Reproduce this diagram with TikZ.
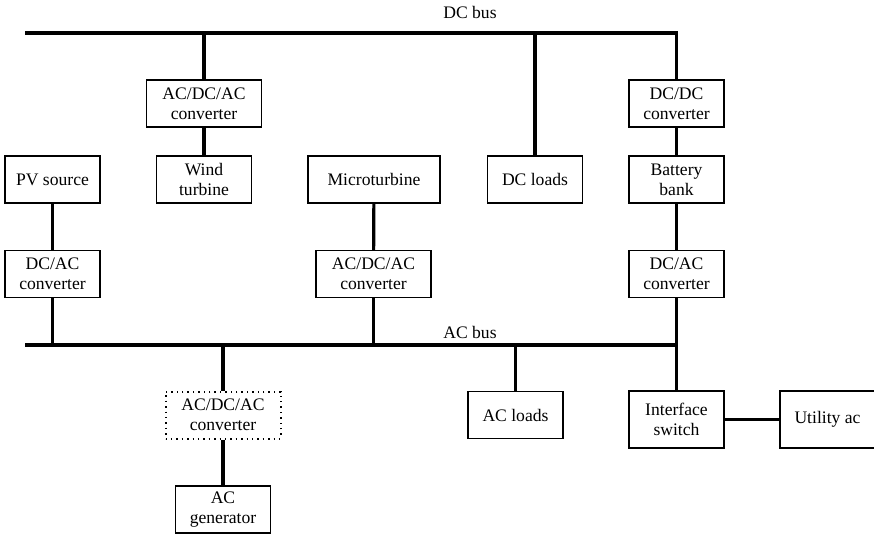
\documentclass[tikz,border=0pt]{standalone}
\usepackage{fontspec}
\setmainfont{Liberation Serif}
\begin{document}
\begin{tikzpicture}[x=0.5pt,y=-0.5pt,
    box/.style={draw, line width=0.7pt, minimum width=47.5pt, minimum height=23.5pt,
      align=center, inner sep=1pt, font=\fontsize{8.8}{10}\selectfont},
    wide/.style={box, minimum width=57.5pt},
    tall/.style={box, minimum height=28.5pt},
    link/.style={line width=1.6pt},
    buslabel/.style={font=\fontsize{8.8}{10}\selectfont}]
  \useasboundingbox (0,0) rectangle (874,536);
  % DC side
  \node[wide] (acdcw) at (204,103.5) {AC/DC/AC\\converter};
  \node[box] (wind) at (204,179.5) {Wind\\turbine};
  \node[box] (pv) at (52.5,179.5) {PV source};
  \node[box, minimum width=66pt] (micro) at (374,179.5) {Microturbine};
  \node[box] (dcload) at (535,179.5) {DC loads};
  \node[box] (dcdc) at (676.5,103.5) {DC/DC\\converter};
  \node[box] (batt) at (676.5,179.5) {Battery\\bank};
  % converters onto the AC bus
  \node[box] (dcacpv) at (52.5,274) {DC/AC\\converter};
  \node[wide] (acdcmt) at (373.5,274) {AC/DC/AC\\converter};
  \node[box] (dcacbat) at (676.5,274) {DC/AC\\converter};
  % AC side
  \node[wide, dotted, line width=1pt] (acdcgen) at (223,415) {AC/DC/AC\\converter};
  \node[box] (acgen) at (223,509.5) {AC\\generator};
  \node[box] (acload) at (515.5,415) {AC loads};
  \node[tall] (iswitch) at (676.5,419.5) {Interface\\switch};
  \node[tall] (utility) at (827.5,419.5) {Utility ac};
  % buses
  \coordinate (dcbus) at (25,33);
  \coordinate (acbus) at (25,345);
  \draw[link] (dcbus) -- (dcbus -| dcdc) -- (dcdc);
  \draw[link] (acbus) -- (acbus -| iswitch);
  \node[buslabel] (dclabel) at (470,12) {DC bus};
  \node[buslabel] (aclabel) at (470,332) {AC bus};
  % taps on the DC bus
  \draw[link] (acdcw) -- (acdcw |- dcbus);
  \draw[link] (dcload) -- (dcload |- dcbus);
  \draw[link] (acdcw) -- (wind);
  \draw[link] (dcdc) -- (batt);
  \draw[link] (batt) -- (dcacbat);
  % taps on the AC bus
  \draw[link] (pv) -- (dcacpv);
  \draw[link] (micro) -- (acdcmt);
  \draw[link] (dcacpv) -- (dcacpv |- acbus);
  \draw[link] (acdcmt) -- (acdcmt |- acbus);
  \draw[link] (dcacbat) -- (iswitch);
  \draw[link] (acdcgen) -- (acdcgen |- acbus);
  \draw[link] (acdcgen) -- (acgen);
  \draw[link] (acload) -- (acload |- acbus);
  \draw[link] (iswitch) -- (utility);
\end{tikzpicture}
\end{document}
